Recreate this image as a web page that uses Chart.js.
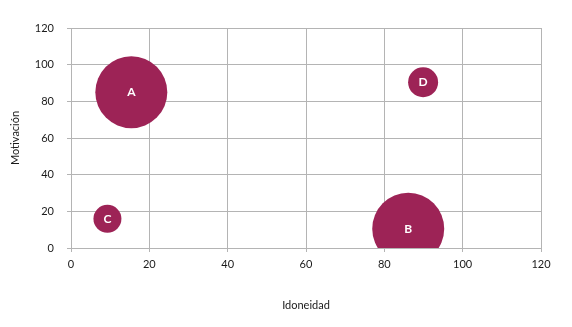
<!DOCTYPE html>
<html>
<head>
<meta charset="utf-8">
<script src="https://cdn.jsdelivr.net/npm/chart.js@4/dist/chart.umd.min.js"></script>
<style>
  html, body { margin: 0; padding: 0; background: #fff; }
  #wrap { width: 572px; height: 327px; position: relative; }
</style>
</head>
<body>
<div id="wrap"><canvas id="c"></canvas></div>
<script>
// bubble chart: Idoneidad vs Motivación

const names  = ['A', 'B', 'C', 'D'];
const idon   = [15.4, 86.1, 9.3, 89.9];
const motiv  = [85, 10.5, 15.9, 90.4];
const sizes  = [36, 36, 14, 15];
const xTicks = [0, 20, 40, 60, 80, 100, 120];
const yTicks = [0, 20, 40, 60, 80, 100, 120];

const C = {
  bubble: '#9d2356',
  grid:   '#b4b4b4',
  text:   '#1a1a1a',
};

Chart.defaults.font.family = "Lato, 'Open Sans', sans-serif";
Chart.defaults.font.size   = 11;
Chart.defaults.color       = C.text;

/* ─── labels inside bubbles ───────────────────────────── */
const bubbleLabels = {
  id: 'bubbleLabels',
  afterDatasetsDraw(chart) {
    const ctx  = chart.ctx;
    const meta = chart.getDatasetMeta(0);
    ctx.save();
    ctx.fillStyle = '#ffffff';
    ctx.font = "bold 12px Lato, 'Open Sans', sans-serif";
    ctx.textAlign = 'center';
    ctx.textBaseline = 'middle';
    meta.data.forEach((el, i) => {
      ctx.fillText(names[i], el.x, el.y);
    });
    ctx.restore();
  }
};

new Chart(document.getElementById('c'), {
  type: 'bubble',
  data: {
    datasets: [{
      data: names.map((n, i) => ({ x: idon[i], y: motiv[i], r: sizes[i] })),
      backgroundColor: C.bubble,
      borderColor: C.bubble,
      borderWidth: 0,
      hoverBorderWidth: 0,
      clip: 0,
    }]
  },
  options: {
    responsive: true, maintainAspectRatio: false,
    animation: false,
    layout: { autoPadding: false, padding: { top: 28, right: 31, left: 0, bottom: 0 } },
    plugins: {
      legend: { display: false },
      tooltip: { enabled: false },
    },
    scales: {
      x: {
        type: 'linear', min: 0, max: 120,
        afterBuildTicks: s => { s.ticks = xTicks.map(v => ({ value: v })); },
        afterFit: s => { s.height = 79; },
        grid: { color: C.grid, tickLength: 4 },
        border: { color: C.grid },
        ticks: { padding: 6, color: C.text },
        title: { display: true, text: 'Idoneidad', color: C.text, padding: { top: 0, bottom: 15 } },
      },
      y: {
        type: 'linear', min: 0, max: 120,
        afterBuildTicks: s => { s.ticks = yTicks.map(v => ({ value: v })); },
        afterFit: s => { s.width = 71; },
        grid: { color: C.grid, tickLength: 4 },
        border: { color: C.grid },
        ticks: { padding: 13, color: C.text },
        title: { display: true, text: 'Motivación', color: C.text, padding: { top: 9, bottom: 0 } },
      }
    }
  },
  plugins: [bubbleLabels]
});
</script>
</body>
</html>
